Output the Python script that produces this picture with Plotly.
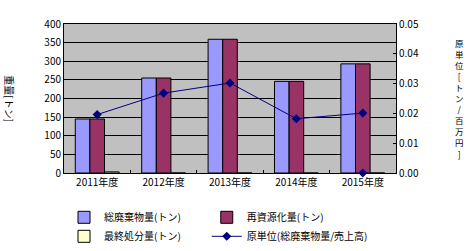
import plotly.graph_objects as go

years = ["2011年度", "2012年度", "2013年度", "2014年度", "2015年度"]
total_waste = [145, 255, 359, 246, 293]
recycled = [145, 255, 359, 246, 293]
final_disposal = [3, 0, 0, 0, 0]
intensity = [0.0196, 0.0268, 0.0302, 0.0182, 0.0201]
extra_year = ["2015年度"]
extra_intensity = [0.0]

FONT = "Noto Sans CJK JP"

fig = go.Figure()
fig.add_trace(go.Bar(x=years, y=total_waste, name="総廃棄物量(トン)", legend="legend",
                     marker=dict(color="#9999FF", line=dict(color="black", width=1))))
fig.add_trace(go.Bar(x=years, y=recycled, name="再資源化量(トン)", legend="legend2",
                     marker=dict(color="#993366", line=dict(color="black", width=1))))
fig.add_trace(go.Bar(x=years, y=final_disposal, name="最終処分量(トン)", legend="legend",
                     marker=dict(color="#FFFFCC", line=dict(color="black", width=1))))
fig.add_trace(go.Scatter(x=years, y=intensity, name="原単位(総廃棄物量/売上高)", yaxis="y2",
                         legend="legend2", mode="lines+markers",
                         line=dict(color="#000080", width=1),
                         marker=dict(symbol="diamond", size=7, color="#000080")))
fig.add_trace(go.Scatter(x=extra_year, y=extra_intensity, yaxis="y2", mode="markers",
                         showlegend=False, cliponaxis=False,
                         marker=dict(symbol="diamond", size=7, color="#000080")))

leg_common = dict(orientation="v", yanchor="top", xanchor="left", font=dict(size=10),
                  itemwidth=30, tracegroupgap=0, bgcolor="rgba(0,0,0,0)",
                  traceorder="normal")

fig.update_layout(
    width=469, height=251,
    margin=dict(l=64, r=73, t=24, b=78, autoexpand=False),
    paper_bgcolor="white", plot_bgcolor="#C0C0C0",
    font=dict(family=FONT, size=10, color="black"),
    barmode="group", bargap=0.34, bargroupgap=0,
    showlegend=True,
    legend=dict(x=0.0, y=-0.2, **leg_common),
    legend2=dict(x=0.43, y=-0.2, **leg_common),
    xaxis=dict(showgrid=False, ticks="inside", ticklen=3, tickson="boundaries",
               tickcolor="black", showline=True, linecolor="black", linewidth=1,
               mirror=True, tickfont=dict(size=10)),
    yaxis=dict(range=[0, 400], dtick=50, showgrid=True, gridcolor="black", gridwidth=1,
               showline=True, linecolor="black", linewidth=1, ticks="", zeroline=False,
               tickfont=dict(size=10)),
    yaxis2=dict(range=[0, 0.05], dtick=0.01, tickformat=".2f", overlaying="y", side="right",
                showgrid=False, zeroline=False, showline=True, linecolor="black",
                ticks="inside", ticklen=3, tickcolor="black", tickfont=dict(size=10)),
)

fig.add_annotation(text="重量[トン]", xref="paper", yref="paper", x=-0.165, y=0.5,
                   xanchor="center", textangle=90, showarrow=False, font=dict(size=10))
fig.add_annotation(text="<br>".join(list("原単位[トン/百万円]")), xref="paper", yref="paper",
                   x=1.19, y=0.5, xanchor="center", showarrow=False, font=dict(size=8.5))

fig.write_html("out.html")
